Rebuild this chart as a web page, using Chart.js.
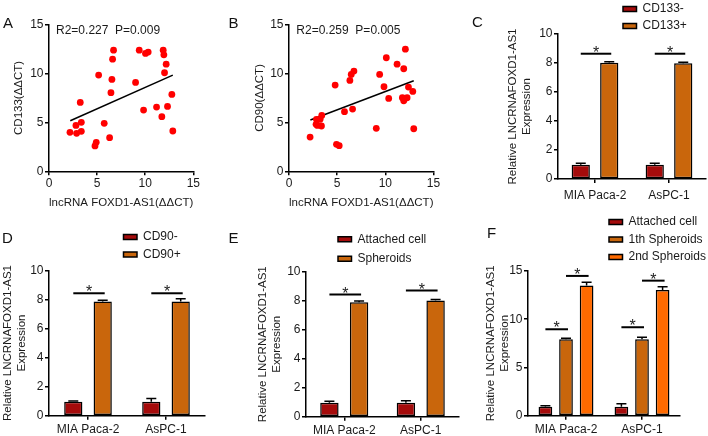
<!DOCTYPE html>
<html><head><meta charset="utf-8">
<script src="https://cdn.jsdelivr.net/npm/chart.js@4.4.1/dist/chart.umd.min.js"></script>
<style>
html,body{margin:0;padding:0;background:#fff;}
#wrap{position:relative;width:708px;height:436px;overflow:hidden;background:#fff;}
canvas{position:absolute;left:0;top:0;}
</style></head><body><div id="wrap">
<canvas id="cA" width="708" height="436"></canvas>
<canvas id="cB" width="708" height="436"></canvas>
<canvas id="cC" width="708" height="436"></canvas>
<canvas id="cD" width="708" height="436"></canvas>
<canvas id="cE" width="708" height="436"></canvas>
<canvas id="cF" width="708" height="436"></canvas>
</div>
<script>
// ---------------- data ----------------
const aLncX = [2.18, 2.87, 2.80, 3.36, 3.36, 3.25, 4.78, 4.91, 5.16, 5.74, 6.30, 6.44, 6.54, 6.61, 6.71, 9.00, 9.38, 9.83, 10.03, 10.31, 11.18, 11.73, 11.87, 11.94, 12.18, 12.01, 12.32, 12.77, 12.87];
const aCd133Y = [3.98, 3.88, 4.69, 5.00, 4.08, 7.04, 2.59, 2.96, 9.83, 4.90, 3.44, 8.03, 9.39, 11.46, 12.38, 9.08, 12.38, 6.26, 12.04, 12.18, 6.56, 5.58, 12.38, 11.90, 10.95, 10.07, 6.63, 7.86, 4.12];
const aFitX = [2.21, 12.87];
const aFitY = [5.17, 9.83];
const aStats = 'R2=0.227  P=0.009';

const bLncX = [2.19, 2.81, 2.95, 2.85, 3.23, 3.40, 3.37, 4.79, 4.93, 5.21, 5.76, 6.32, 6.46, 6.60, 6.74, 9.06, 9.41, 9.86, 10.10, 10.35, 11.22, 11.77, 11.91, 12.08, 11.91, 12.01, 12.26, 12.40, 12.85, 12.95];
const bCd90Y = [3.50, 4.80, 4.69, 5.31, 5.31, 5.71, 4.63, 8.81, 2.76, 2.62, 6.09, 9.29, 9.90, 6.36, 10.24, 4.39, 9.90, 8.64, 11.60, 7.45, 10.95, 7.52, 10.48, 12.48, 7.21, 7.38, 7.52, 8.61, 8.16, 4.35];
const bFitX = [2.22, 12.95];
const bFitY = [5.24, 9.25];
const bStats = 'R2=0.259  P=0.005';

const groupLabels = ['MIA Paca-2', 'AsPC-1'];
const barAxisTitle = ['Relative LNCRNAFOXD1-AS1', 'Expression'];

const cNames = ['CD133-', 'CD133+'];
const cNeg = [0.99, 0.99];   const cNegErr = [0.09, 0.09];
const cPos = [8.02, 7.98];   const cPosErr = [0.07, 0.07];
const cSig = [8.64, 8.64];

const dNames = ['CD90-', 'CD90+'];
const dNeg = [0.96, 0.96];   const dNegErr = [0.05, 0.22];
const dPos = [7.86, 7.86];   const dPosErr = [0.08, 0.18];
const dSig = [8.42, 8.42];

const eNames = ['Attached cell', 'Spheroids'];
const eAtt = [0.97, 0.97];   const eAttErr = [0.10, 0.13];
const eSph = [7.90, 8.02];   const eSphErr = [0.08, 0.07];
const eSig = [8.42, 8.70];

const fNames = ['Attached cell', '1th Spheroids', '2nd Spheroids'];
const fAtt = [0.93, 0.93];   const fAttErr = [0.10, 0.30];
const f1st = [7.92, 7.92];   const f1stErr = [0.10, 0.20];
const f2nd = [13.49, 13.04]; const f2ndErr = [0.35, 0.34];
const fSigLow = [8.96, 9.17];
const fSigHigh = [14.49, 14.00];

// ---------------- style ----------------
const FAM = "'Liberation Sans', Arial, Helvetica, sans-serif";
const INK = '#1a1a1a';
const RED = '#a50b0b', ORANGE = '#c9660c', BRIGHT = '#ff6a00', DOT = '#ff0000';

// ---------------- plugins ----------------
const errorBars = {
  id: 'errorBars',
  afterDatasetsDraw(chart, args, opts) {
    if (!opts || !opts.errors) return;
    const ctx = chart.ctx, ys = chart.scales.y;
    ctx.save(); ctx.strokeStyle = '#000'; ctx.lineWidth = 1.5;
    opts.errors.forEach((errs, di) => {
      const meta = chart.getDatasetMeta(di);
      meta.data.forEach((bar, j) => {
        const v = chart.data.datasets[di].data[j];
        const yt = ys.getPixelForValue(v + errs[j]);
        const half = 5;
        ctx.beginPath();
        ctx.moveTo(bar.x, bar.y); ctx.lineTo(bar.x, yt);
        ctx.moveTo(bar.x - half, yt); ctx.lineTo(bar.x + half, yt);
        ctx.stroke();
      });
    });
    ctx.restore();
  }
};
const sigMarks = {
  id: 'sigMarks',
  afterDatasetsDraw(chart, args, opts) {
    if (!opts || !opts.items) return;
    const ctx = chart.ctx, ys = chart.scales.y;
    ctx.save();
    opts.items.forEach(it => {
      const a = chart.getDatasetMeta(it.from).data[it.cat];
      const b = chart.getDatasetMeta(it.to).data[it.cat];
      const y = ys.getPixelForValue(it.level);
      const x1 = a.x, x2 = b.x + 2;
      ctx.strokeStyle = '#000'; ctx.lineWidth = 2;
      ctx.beginPath(); ctx.moveTo(x1, y); ctx.lineTo(x2, y); ctx.stroke();
      ctx.fillStyle = '#222'; ctx.font = '16px ' + FAM;
      ctx.textAlign = 'center'; ctx.textBaseline = 'alphabetic';
      ctx.fillText('*', (x1 + x2) / 2, y + 4);
    });
    ctx.restore();
  }
};
const texts = {
  id: 'texts',
  afterDraw(chart, args, opts) {
    if (!opts || !opts.items) return;
    const ctx = chart.ctx;
    ctx.save();
    opts.items.forEach(t => {
      let x = t.x, y = t.y;
      if (t.dataX !== undefined) {
        x = chart.scales.x.getPixelForValue(t.dataX);
        y = chart.scales.y.getPixelForValue(t.dataY);
      }
      ctx.font = t.size + 'px ' + FAM;
      ctx.fillStyle = t.color || INK;
      ctx.textAlign = 'left';
      ctx.textBaseline = t.baseline || 'alphabetic';
      ctx.fillText(t.text, x, y);
    });
    ctx.restore();
  }
};
const legendPlacer = {
  id: 'legendPlacer',
  beforeDraw(chart, args, opts) {
    if (!opts || opts.boxLeft === undefined || !chart.legend) return;
    const lg = chart.legend;
    const p = lg.options.labels.padding;
    lg.left = opts.boxLeft - p;
    lg.top = opts.rowCenter - 6 - p;
    lg.right = lg.left + 250;
    lg.bottom = lg.top + 150;
  }
};
Chart.register(errorBars, sigMarks, texts, legendPlacer);

function axisBase() {
  return {
    grid: {drawOnChartArea: false, drawTicks: true, tickLength: 4, color: '#000', lineWidth: 1.5},
    border: {display: true, color: '#000', width: 1.5}
  };
}

// ---------------- scatter panels ----------------
function scatterChart(id, xs, ys, fitX, fitY, yTitle, stats, statsX, letter, L) {
  const yW = L.l - L.yScaleLeft;
  const xH = L.xScaleBottom - L.b;
  return new Chart(document.getElementById(id), {
    type: 'scatter',
    data: {datasets: [
      {data: xs.map((x, i) => ({x: x, y: ys[i]})), backgroundColor: DOT, borderWidth: 0, pointRadius: 3.4},
      {type: 'line', data: fitX.map((x, i) => ({x: x, y: fitY[i]})), borderColor: '#000', borderWidth: 1.5, pointRadius: 0, fill: false}
    ]},
    options: {
      responsive: false, animation: false, events: [],
      layout: {padding: {left: L.yScaleLeft, top: L.t, right: 708 - L.r, bottom: 436 - L.xScaleBottom}},
      scales: {
        x: Object.assign(axisBase(), {
          type: 'linear', min: 0, max: 15,
          afterFit: s => { s.height = xH; },
          ticks: {stepSize: 5, color: INK, font: {size: 12, family: FAM}, padding: 1},
          title: {display: true, text: 'lncRNA FOXD1-AS1(ΔΔCT)', color: INK, font: {size: 11.5, family: FAM}, padding: {top: 0, bottom: 0}}
        }),
        y: Object.assign(axisBase(), {
          type: 'linear', min: 0, max: 15,
          afterFit: s => { s.width = yW; },
          ticks: {stepSize: 5, color: INK, font: {size: 12, family: FAM}, padding: 1.5},
          title: {display: true, text: yTitle, color: INK, font: {size: 11.5, family: FAM}, padding: {top: 0, bottom: 0}}
        })
      },
      plugins: {
        legend: {display: false}, tooltip: {enabled: false},
        texts: {items: [
          {text: stats, dataX: statsX, dataY: 14.37, size: 12, baseline: 'middle'},
          {text: letter.text, x: letter.x, y: letter.y, size: 15, color: '#111'}
        ]}
      }
    }
  });
}

scatterChart('cA', aLncX, aCd133Y, aFitX, aFitY, 'CD133(ΔΔCT)', aStats, 0.73,
  {text: 'A', x: 3, y: 28},
  {l: 49, r: 193.3, t: 24.5, b: 171.3, yScaleLeft: 11.6, xScaleBottom: 210});
scatterChart('cB', bLncX, bCd90Y, bFitX, bFitY, 'CD90(ΔΔCT)', bStats, 0.76,
  {text: 'B', x: 228.5, y: 28},
  {l: 289, r: 433.5, t: 24.5, b: 171.3, yScaleLeft: 252.6, xScaleBottom: 210});

// ---------------- bar panels ----------------
function barChart(id, series, sigItems, letter, L) {
  const xH = L.xH;
  return new Chart(document.getElementById(id), {
    type: 'bar',
    data: {labels: groupLabels, datasets: series.map(s => ({
      label: s.name, data: s.values, backgroundColor: s.color, borderColor: '#000',
      borderWidth: 1.5, borderSkipped: false,
      categoryPercentage: L.catPct, barPercentage: L.barPct
    }))},
    options: {
      responsive: false, animation: false, events: [],
      layout: {padding: {left: L.yScaleLeft, top: L.t, right: 708 - L.r, bottom: Math.max(0, 436 - L.b - xH)}},
      scales: {
        x: Object.assign(axisBase(), {
          afterFit: s => { s.height = xH; },
          grid: {drawOnChartArea: false, drawTicks: true, tickLength: 4, color: '#000', lineWidth: 1.5, offset: false},
          ticks: {color: INK, font: {size: 12, family: FAM}, padding: L.xLabelPad, autoSkip: false, maxRotation: 0}
        }),
        y: Object.assign(axisBase(), {
          min: 0, max: L.max,
          afterFit: s => { s.width = L.l - L.yScaleLeft; },
          ticks: {stepSize: L.step, color: INK, font: {size: 12, family: FAM}, padding: 1.5},
          title: {display: true, text: barAxisTitle, color: INK, font: {size: 11.5, family: FAM, lineHeight: '14px'}, padding: {top: 0, bottom: 0}}
        })
      },
      plugins: {
        tooltip: {enabled: false},
        legend: {
          display: true, position: 'chartArea', align: 'start',
          labels: {boxWidth: 13.5, boxHeight: 5, padding: L.legendGap, color: INK, font: {size: 12, family: FAM}}
        },
        legendPlacer: {boxLeft: L.legendX, rowCenter: L.legendY},
        errorBars: {errors: series.map(s => s.err)},
        sigMarks: {items: sigItems},
        texts: {items: [{text: letter.text, x: letter.x, y: letter.y, size: 15, color: '#111'}]}
      }
    }
  });
}

barChart('cC',
  [{name: cNames[0], values: cNeg, err: cNegErr, color: RED},
   {name: cNames[1], values: cPos, err: cPosErr, color: ORANGE}],
  [{cat: 0, from: 0, to: 1, level: cSig[0]}, {cat: 1, from: 0, to: 1, level: cSig[1]}],
  {text: 'C', x: 472, y: 27},
  {l: 558, r: 706, t: 34, b: 179, xH: 28, yScaleLeft: 505.7, max: 10, step: 2, catPct: 0.77, barPct: 0.64,
   xLabelPad: 5, legendX: 623, legendY: 9, legendGap: 5});

barChart('cD',
  [{name: dNames[0], values: dNeg, err: dNegErr, color: RED},
   {name: dNames[1], values: dPos, err: dPosErr, color: ORANGE}],
  [{cat: 0, from: 0, to: 1, level: dSig[0]}, {cat: 1, from: 0, to: 1, level: dSig[1]}],
  {text: 'D', x: 2, y: 243},
  {l: 49, r: 205, t: 270.3, b: 415.7, xH: 20.3, yScaleLeft: 1.3, max: 10, step: 2, catPct: 0.754, barPct: 0.62,
   xLabelPad: 3, legendX: 123.5, legendY: 237, legendGap: 5.5});

barChart('cE',
  [{name: eNames[0], values: eAtt, err: eAttErr, color: RED},
   {name: eNames[1], values: eSph, err: eSphErr, color: ORANGE}],
  [{cat: 0, from: 0, to: 1, level: eSig[0]}, {cat: 1, from: 0, to: 1, level: eSig[1]}],
  {text: 'E', x: 228.5, y: 243},
  {l: 306, r: 459, t: 271.7, b: 416.7, xH: 19.3, yScaleLeft: 256.3, max: 10, step: 2, catPct: 0.776, barPct: 0.62,
   xLabelPad: 3, legendX: 338, legendY: 239.2, legendGap: 7.5});

barChart('cF',
  [{name: fNames[0], values: fAtt, err: fAttErr, color: RED},
   {name: fNames[1], values: f1st, err: f1stErr, color: ORANGE},
   {name: fNames[2], values: f2nd, err: f2ndErr, color: BRIGHT}],
  [{cat: 0, from: 0, to: 1, level: fSigLow[0]}, {cat: 0, from: 1, to: 2, level: fSigHigh[0]},
   {cat: 1, from: 0, to: 1, level: fSigLow[1]}, {cat: 1, from: 1, to: 2, level: fSigHigh[1]}],
  {text: 'F', x: 487, y: 238},
  {l: 528, r: 680, t: 271, b: 415.7, xH: 20.3, yScaleLeft: 483.8, max: 15, step: 5, catPct: 0.813, barPct: 0.665,
   xLabelPad: 3, legendX: 609, legendY: 222, legendGap: 5.5});
</script>
</body></html>
